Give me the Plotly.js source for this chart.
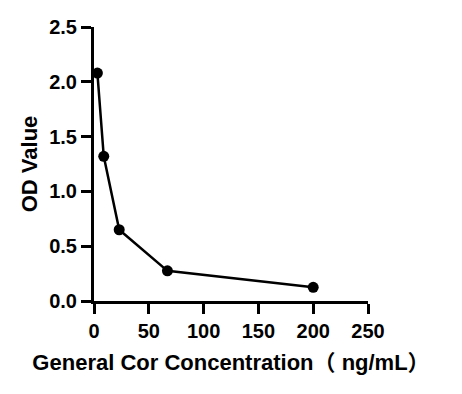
<!DOCTYPE html>
<html>
<head>
<meta charset="utf-8">
<script src="https://cdn.plot.ly/plotly-3.0.1.min.js"></script>
<style>html,body{margin:0;padding:0;background:#fff;}#chart{width:462px;height:394px;}</style>
</head>
<body>
<div id="chart"></div>
<script>
var concentration = [3.1, 8.9, 23, 67, 200];
var odValue = [2.08, 1.32, 0.65, 0.275, 0.125];
var xTicks = [0, 50, 100, 150, 200, 250];
var yTicks = [0.0, 0.5, 1.0, 1.5, 2.0, 2.5];
var yTickText = ['0.0', '0.5', '1.0', '1.5', '2.0', '2.5'];
var xTitle = 'General Cor Concentration（ ng/mL）';
var yTitle = 'OD Value';

var font = 'Arial, "Liberation Sans", "Noto Sans CJK SC", sans-serif';

Plotly.newPlot('chart', [{
  x: concentration,
  y: odValue,
  type: 'scatter',
  mode: 'lines+markers',
  line: {color: '#000', width: 2.5},
  marker: {color: '#000', size: 11},
  cliponaxis: false
}], {
  width: 462, height: 394,
  margin: {l: 94, r: 94, t: 27, b: 93},
  paper_bgcolor: '#fff', plot_bgcolor: '#fff',
  showlegend: false,
  font: {family: font, color: '#000'},
  xaxis: {
    range: [0, 250], tickvals: xTicks, ticktext: xTicks.map(String),
    showgrid: false, zeroline: false, showline: true, linecolor: '#000', linewidth: 3,
    ticks: 'outside', ticklen: 10, tickwidth: 3, tickcolor: '#000',
    tickfont: {family: font, size: 20, weight: 'bold', color: '#000'},
    title: {text: xTitle, font: {family: font, size: 22, weight: 'bold', color: '#000'}, standoff: 14}
  },
  yaxis: {
    range: [0, 2.5], tickvals: yTicks, ticktext: yTickText,
    showgrid: false, zeroline: false, showline: true, linecolor: '#000', linewidth: 3,
    ticks: 'outside', ticklen: 10, tickwidth: 3, tickcolor: '#000',
    tickfont: {family: font, size: 20, weight: 'bold', color: '#000'},
    title: {text: yTitle, font: {family: font, size: 22, weight: 'bold', color: '#000'}, standoff: 6}
  }
}, {displayModeBar: false, staticPlot: true});
</script>
</body>
</html>
